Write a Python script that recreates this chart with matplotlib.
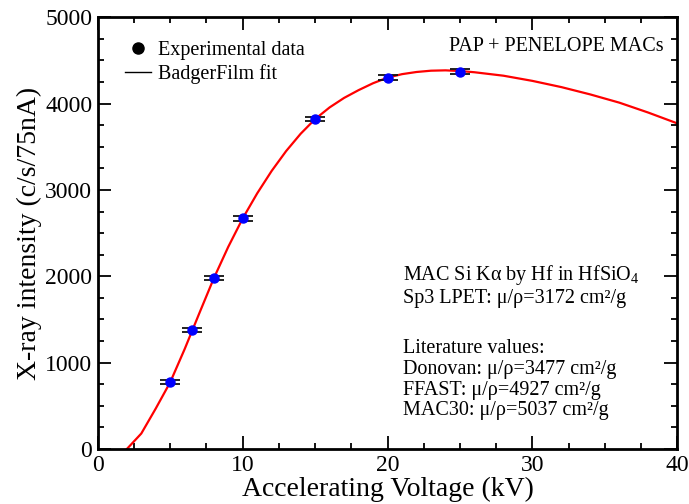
import matplotlib
matplotlib.use("Agg")
import matplotlib.pyplot as plt
from matplotlib.ticker import MultipleLocator

plt.rcParams['font.family'] = ['Liberation Serif', 'DejaVu Serif']
plt.rcParams['mathtext.fontset'] = 'custom'
plt.rcParams['mathtext.rm'] = 'Liberation Serif'

# Experimental data
exp_kv = [5, 6.5, 8, 10, 15, 20, 25]
exp_int = [775, 1380, 1980, 2670, 3820, 4300, 4370]
exp_err = [25, 25, 25, 25, 25, 25, 25]

# BadgerFilm fit
fit_kv = [2, 3, 4, 5, 6, 7, 8, 9, 10, 11, 12, 13, 14, 15, 16, 17, 18, 19, 20,
          21, 22, 23, 24, 25, 26, 28, 30, 32, 34, 36, 38, 40]
fit_int = [0, 180, 470, 775, 1160, 1570, 1975, 2340, 2670, 2960, 3220, 3450, 3650, 3820,
           3955, 4065, 4155, 4235, 4300, 4340, 4365, 4380, 4384, 4376, 4362, 4322, 4262,
           4190, 4105, 4010, 3895, 3770]

fig = plt.figure(figsize=(6.89, 5.04), dpi=100)
ax = fig.add_axes([0.142, 0.109, 0.841, 0.857])

ax.plot(fit_kv, fit_int, color='red', lw=1.6, zorder=2)
ax.errorbar(exp_kv, exp_int, yerr=exp_err, fmt='o', color='blue', ms=6.5,
            ecolor='#111111', elinewidth=1.0, capsize=7, capthick=1.3, zorder=3)

ax.set_xlim(0, 40)
ax.set_ylim(0, 5000)
ax.xaxis.set_major_locator(MultipleLocator(10))
ax.xaxis.set_minor_locator(MultipleLocator(2.5))
ax.yaxis.set_major_locator(MultipleLocator(1000))
ax.yaxis.set_minor_locator(MultipleLocator(250))
ax.tick_params(which='both', direction='in', top=True, right=True, width=1.3, labelsize=17)
ax.tick_params(which='major', length=9.5, pad=4)
ax.tick_params(which='minor', length=4.5)
for s in ax.spines.values():
    s.set_linewidth(2)

ax.set_xlabel('Accelerating Voltage (kV)', fontsize=20, labelpad=1)
ax.set_ylabel('X-ray intensity (c/s/75nA)', fontsize=20, labelpad=2)

# legend
ax.plot([], [], 'o', color='black', ms=8, label='Experimental data')
ax.plot([], [], '-', color='black', lw=1, label='BadgerFilm fit')
h, l = ax.get_legend_handles_labels()
ax.legend(h[-2:], l[-2:], loc='upper left', bbox_to_anchor=(0.047, 0.945), frameon=False,
          fontsize=14.5, handlelength=1.3, handletextpad=0.35, labelspacing=0.2,
          borderaxespad=0, borderpad=0)

ax.text(0.976, 0.921, 'PAP + PENELOPE MACs', transform=ax.transAxes, ha='right',
        va='baseline', fontsize=14.5)

lines = [
    ('MAC Si K\u03b1 by Hf in HfSiO$_4$', 0.391),
    ('Sp3 LPET: \u03bc/\u03c1=3172 cm\u00b2/g', 0.338),
    ('Literature values:', 0.222),
    ('Donovan: \u03bc/\u03c1=3477 cm\u00b2/g', 0.174),
    ('FFAST: \u03bc/\u03c1=4927 cm\u00b2/g', 0.126),
    ('MAC30: \u03bc/\u03c1=5037 cm\u00b2/g', 0.079),
]
for txt, yy in lines:
    ax.text(0.527, yy, txt, transform=ax.transAxes, ha='left', va='baseline', fontsize=14.5)

fig.savefig('out.png', dpi=100)
